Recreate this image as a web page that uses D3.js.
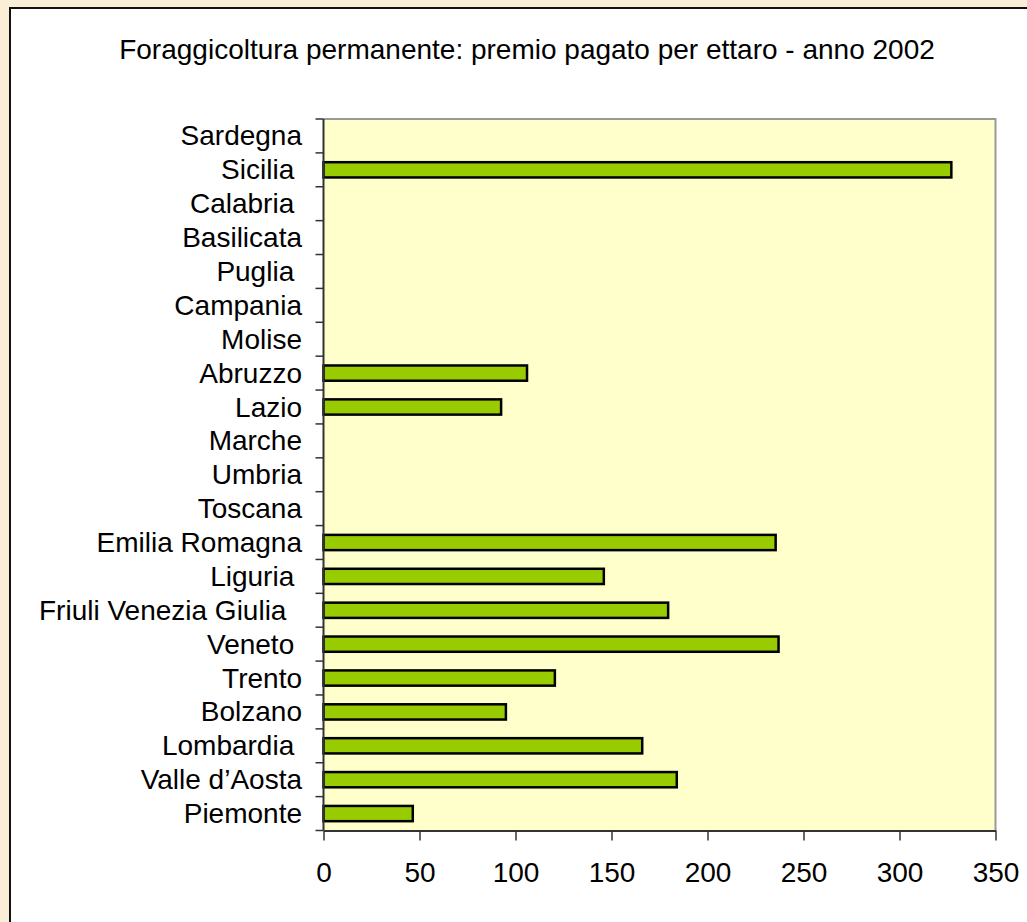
<!DOCTYPE html>
<html>
<head>
<meta charset="utf-8">
<script src="https://cdn.jsdelivr.net/npm/d3@7"></script>
<style>
  body { margin: 0; background: #fbeed6; }
  svg { display: block; }
  text { font-family: "Liberation Sans", Arial, sans-serif; fill: #000; white-space: pre; }
</style>
</head>
<body>
<script>
// regioni dall'alto verso il basso, come nel grafico
const regioni = ["Sardegna", "Sicilia ", "Calabria ", "Basilicata", "Puglia ", "Campania", "Molise",
  "Abruzzo", "Lazio", "Marche", "Umbria", "Toscana", "Emilia Romagna", "Liguria ",
  "Friuli Venezia Giulia  ", "Veneto ", "Trento", "Bolzano", "Lombardia ", "Valle d\u2019Aosta", "Piemonte"];
const premio = [0, 327, 0, 0, 0, 0, 0,
  106, 92.5, 0, 0, 0, 235.5, 146,
  179.5, 237, 120.5, 95, 166, 184, 46.5];
const xTicks = [0, 50, 100, 150, 200, 250, 300, 350];
const titolo = "Foraggicoltura permanente: premio pagato per ettaro - anno 2002";

const width = 1027, height = 922;
const plot = { left: 323.5, top: 119, right: 995.5, bottom: 830.5 };

const svg = d3.select("body").append("svg").attr("width", width).attr("height", height);

// sfondo crema e riquadro bianco
svg.append("rect").attr("width", width).attr("height", height).attr("fill", "#fbeed6");
svg.append("rect")
  .attr("x", 10).attr("y", 8).attr("width", 1040).attr("height", 940)
  .attr("fill", "#fff").attr("stroke", "#111").attr("stroke-width", 2);

const x = d3.scaleLinear().domain([0, 350]).range([plot.left, plot.right]);
const y = d3.scaleBand().domain(regioni).range([plot.top, plot.bottom])
  .paddingInner(0.55).paddingOuter(0.275);

// area del grafico
svg.append("rect")
  .attr("x", plot.left).attr("y", plot.top)
  .attr("width", plot.right - plot.left).attr("height", plot.bottom - plot.top)
  .attr("fill", "#ffffcc");
svg.append("path")
  .attr("d", `M${plot.left},${plot.top}H${plot.right}V${plot.bottom}`)
  .attr("fill", "none").attr("stroke", "#999").attr("stroke-width", 2);

// barre
svg.selectAll("rect.bar")
  .data(regioni.map((r, i) => ({ r, v: premio[i] })).filter(d => d.v > 0))
  .enter().append("rect")
  .attr("class", "bar")
  .attr("x", x(0))
  .attr("y", d => y(d.r))
  .attr("width", d => x(d.v) - x(0))
  .attr("height", y.bandwidth())
  .attr("fill", "#99cc00")
  .attr("stroke", "#000")
  .attr("stroke-width", 2.5);

// asse verticale con tacche tra le categorie
const yAxis = svg.append("g");
yAxis.append("line")
  .attr("x1", plot.left).attr("x2", plot.left)
  .attr("y1", plot.top).attr("y2", plot.bottom)
  .attr("stroke", "#333").attr("stroke-width", 2);
yAxis.selectAll("line.tick")
  .data(d3.range(regioni.length + 1))
  .enter().append("line")
  .attr("class", "tick")
  .attr("x1", plot.left - 8).attr("x2", plot.left)
  .attr("y1", i => plot.top + i * (plot.bottom - plot.top) / regioni.length)
  .attr("y2", i => plot.top + i * (plot.bottom - plot.top) / regioni.length)
  .attr("stroke", "#333").attr("stroke-width", 1.5);
yAxis.selectAll("text")
  .data(regioni)
  .enter().append("text")
  .attr("x", 302)
  .attr("y", d => y(d) + y.bandwidth() / 2)
  .attr("dy", "0.34em")
  .attr("text-anchor", "end")
  .attr("font-size", 28)
  .text(d => d);

// asse orizzontale
const xAxis = svg.append("g")
  .attr("transform", `translate(0,${plot.bottom})`)
  .call(d3.axisBottom(x).tickValues(xTicks).tickSize(10).tickPadding(22).tickSizeOuter(0));
xAxis.select(".domain").attr("stroke", "#333").attr("stroke-width", 2);
xAxis.selectAll(".tick line").attr("stroke", "#333").attr("stroke-width", 1.5);
xAxis.selectAll(".tick text")
  .attr("font-size", 28)
  .attr("font-family", "Liberation Sans, Arial, sans-serif")
  .attr("fill", "#000");

// titolo
svg.append("text")
  .attr("x", 527).attr("y", 59)
  .attr("text-anchor", "middle")
  .attr("font-size", 28)
  .text(titolo);
</script>
</body>
</html>
